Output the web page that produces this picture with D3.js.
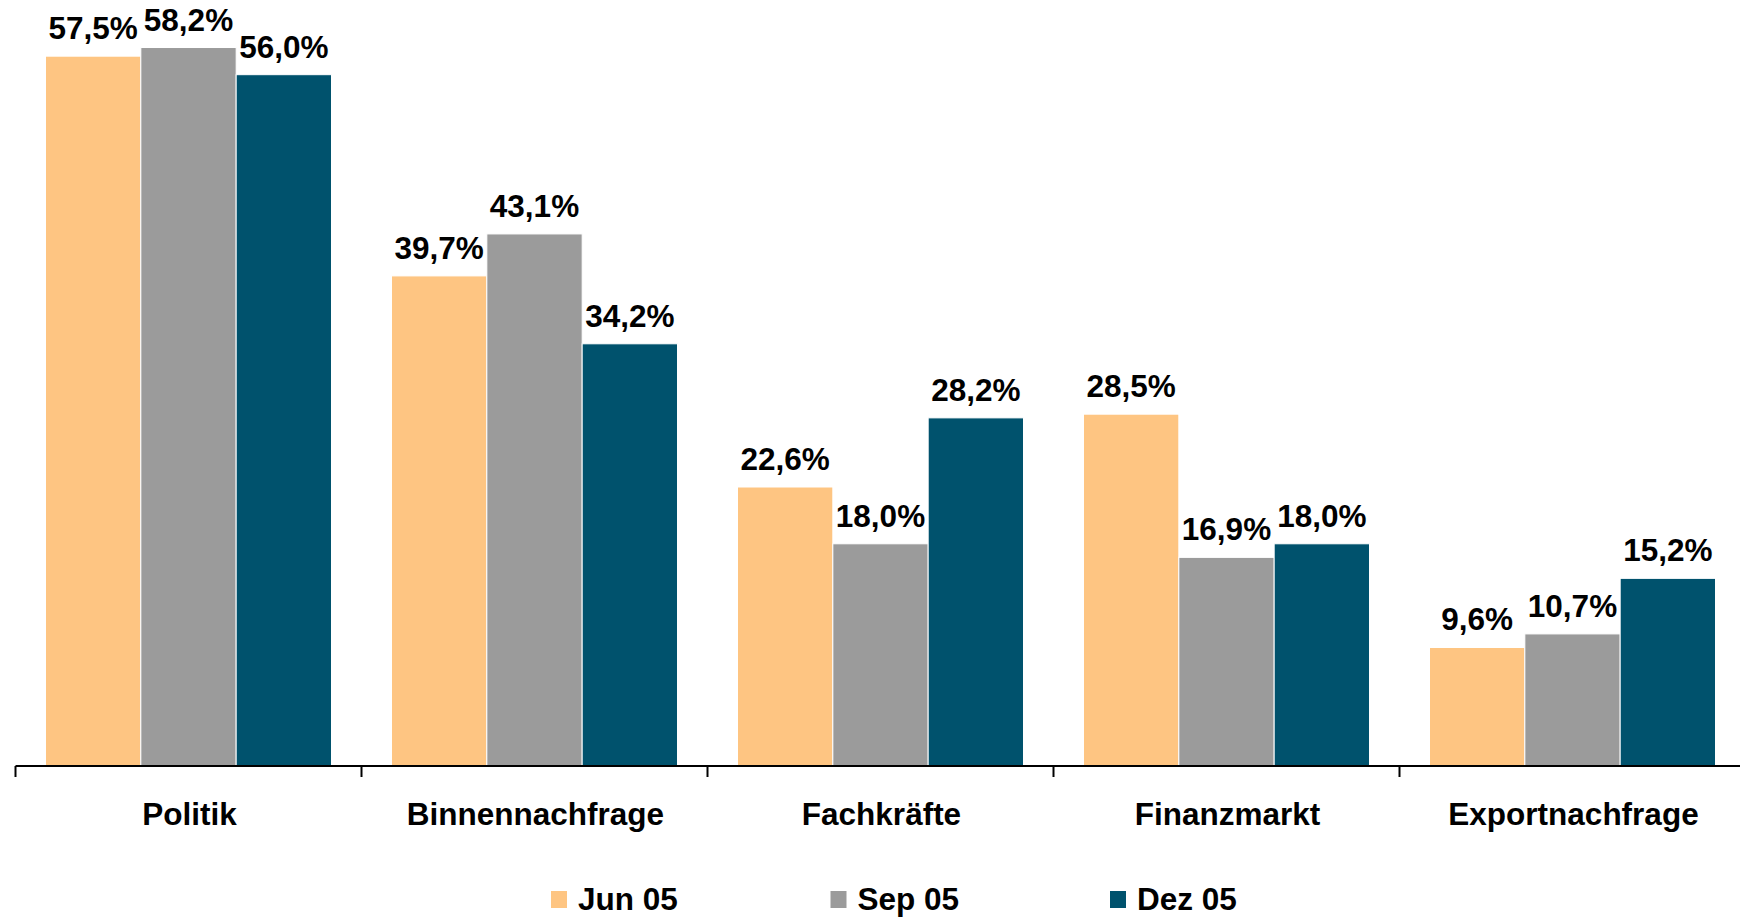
<!DOCTYPE html>
<html>
<head>
<meta charset="utf-8">
<script src="https://cdn.jsdelivr.net/npm/d3@7"></script>
<style>
  html, body { margin: 0; padding: 0; background: #fff; }
  svg { display: block; }
  text { font-family: "Liberation Sans", Arial, sans-serif; font-weight: bold; fill: #000; }
</style>
</head>
<body>
<svg id="chart" width="1740" height="918"></svg>
<script>
const categories = ["Politik", "Binnennachfrage", "Fachkräfte", "Finanzmarkt", "Exportnachfrage"];
const seriesNames = ["Jun 05", "Sep 05", "Dez 05"];
const jun05 = [57.5, 39.7, 22.6, 28.5, 9.6];
const sep05 = [58.2, 43.1, 18.0, 16.9, 10.7];
const dez05 = [56.0, 34.2, 28.2, 18.0, 15.2];
const seriesColors = ["#FEC582", "#9B9B9B", "#00526D"];

const seriesValues = [jun05, sep05, dez05];
const svg = d3.select("#chart");

const x = d3.scaleBand().domain(categories).range([15.5, 15.5 + 5 * 346]).paddingInner(0).paddingOuter(0);
const bw = x.bandwidth();
const x1 = d3.scaleBand().domain(seriesNames).range([30, bw - 30]).paddingInner(0).paddingOuter(0);
const y = d3.scaleLinear().domain([0, 60]).range([766, 766 - 60 * 12.345]);

const fmt = v => d3.format(".1f")(v).replace(".", ",") + "%";

const rows = categories.map((c, i) => ({ cat: c, vals: seriesNames.map((s, j) => ({ s, j, v: seriesValues[j][i] })) }));

const g = svg.selectAll("g.cat").data(rows).join("g")
  .attr("class", "cat")
  .attr("transform", d => `translate(${x(d.cat)},0)`);

g.selectAll("rect").data(d => d.vals).join("rect")
  .attr("x", d => x1(d.s))
  .attr("width", x1.bandwidth())
  .attr("y", d => y(d.v))
  .attr("height", d => y(0) - y(d.v))
  .attr("fill", d => seriesColors[d.j])
  .attr("stroke", "#fff")
  .attr("stroke-width", 1);

g.selectAll("text.val").data(d => d.vals).join("text")
  .attr("class", "val")
  .attr("x", d => x1(d.s) + x1.bandwidth() / 2)
  .attr("y", d => y(d.v) - 17)
  .attr("text-anchor", "middle")
  .style("font-size", "31.5px")
  .text(d => fmt(d.v));

// axis
const axisG = svg.append("g");
axisG.append("line")
  .attr("x1", x.range()[0]).attr("x2", 1740)
  .attr("y1", y(0)).attr("y2", y(0))
  .attr("stroke", "#000").attr("stroke-width", 2);
const tickPos = categories.map(c => x(c));
axisG.selectAll("line.tick").data(tickPos).join("line")
  .attr("class", "tick")
  .attr("x1", d => d).attr("x2", d => d)
  .attr("y1", y(0)).attr("y2", y(0) + 11)
  .attr("stroke", "#000").attr("stroke-width", 2);

svg.selectAll("text.catlab").data(categories).join("text")
  .attr("class", "catlab")
  .attr("x", d => x(d) + bw / 2 + 1)
  .attr("y", 825)
  .attr("text-anchor", "middle")
  .style("font-size", "31.5px")
  .text(d => d);

// legend
const leg = svg.selectAll("g.leg").data(seriesNames).join("g")
  .attr("class", "leg")
  .attr("transform", (d, i) => `translate(${551 + i * 279.5},0)`);
leg.append("rect")
  .attr("x", 0).attr("y", 891).attr("width", 16).attr("height", 17)
  .attr("fill", (d, i) => seriesColors[i]);
leg.append("text")
  .attr("x", 27).attr("y", 910)
  .style("font-size", "31.5px")
  .text(d => d);
</script>
</body>
</html>
